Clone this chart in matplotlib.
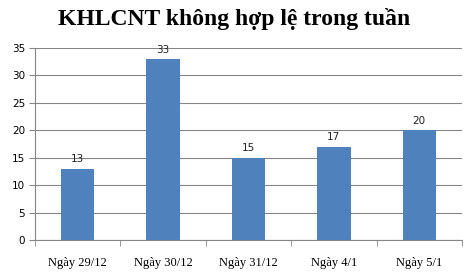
import matplotlib
matplotlib.use("Agg")
import matplotlib.pyplot as plt

categories = ["Ngày 29/12", "Ngày 30/12", "Ngày 31/12", "Ngày 4/1", "Ngày 5/1"]
values = [13, 33, 15, 17, 20]
yticks = [0, 5, 10, 15, 20, 25, 30, 35]

fig = plt.figure(figsize=(4.69, 2.76), dpi=100)
ax = fig.add_axes([0.0746, 0.1304, 0.9104, 0.6956])

x = list(range(len(categories)))
ax.bar(x, values, width=0.39, color="#4F81BD", zorder=3)
for xi, v in zip(x, values):
    ax.text(xi, v + 0.8, str(v), ha="center", va="bottom", fontsize=7.5,
            family="DejaVu Sans", color="#222222")

ax.set_xlim(-0.5, len(categories) - 0.5)
ax.set_ylim(0, 35)
ax.set_yticks(yticks)
ax.set_yticklabels([str(t) for t in yticks], fontsize=7.5, family="DejaVu Sans")
ax.yaxis.grid(True, color="#868686", linewidth=0.8, zorder=0)
ax.set_xticks(x)
ax.set_xticklabels(categories, fontsize=9, family="Liberation Serif")
ax.tick_params(axis="x", length=0, pad=12)
ax.set_xticks([i - 0.5 for i in range(len(categories) + 1)], minor=True)
ax.tick_params(axis="x", which="minor", length=4, color="#868686", direction="out")
ax.tick_params(axis="y", length=4, color="#868686", pad=3)

for s in ["top", "right"]:
    ax.spines[s].set_visible(False)
for s in ["left", "bottom"]:
    ax.spines[s].set_color("#868686")
    ax.spines[s].set_linewidth(0.8)

fig.text(0.5, 0.93, "KHLCNT không hợp lệ trong tuần", ha="center", va="center",
         fontsize=17, fontweight="bold", family="Liberation Serif")

fig.savefig("out.png", dpi=100)
